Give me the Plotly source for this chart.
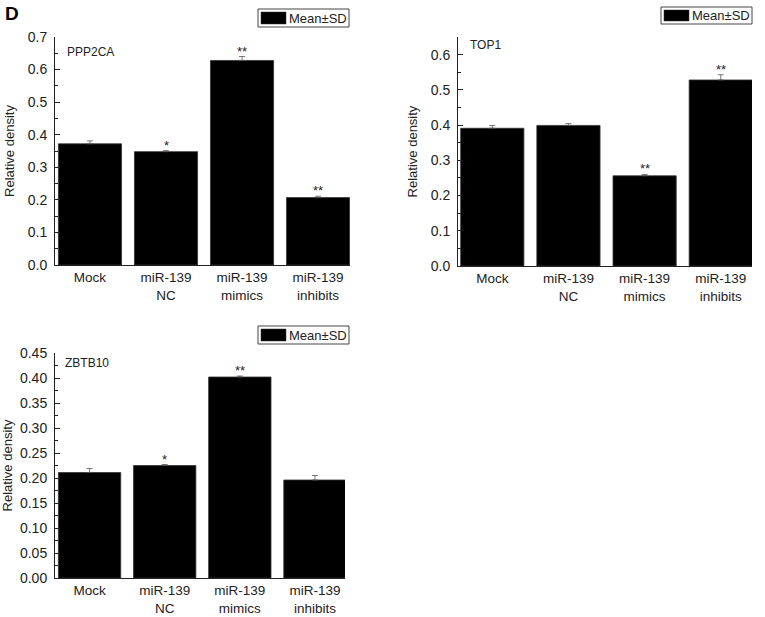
import plotly.graph_objects as go

W, H = 765, 617

categories = ["Mock", "miR-139<br>NC", "miR-139<br>mimics", "miR-139<br>inhibits"]

ppp2ca_vals = [0.372, 0.348, 0.628, 0.207]
ppp2ca_err = [0.009, 0.003, 0.012, 0.004]
ppp2ca_sig = ["", "*", "**", "**"]

top1_vals = [0.391, 0.399, 0.256, 0.528]
top1_err = [0.008, 0.005, 0.004, 0.015]
top1_sig = ["", "", "**", "**"]

zbtb10_vals = [0.211, 0.225, 0.402, 0.196]
zbtb10_err = [0.008, 0.002, 0.002, 0.009]
zbtb10_sig = ["", "*", "**", ""]

panel_titles = ["PPP2CA", "TOP1", "ZBTB10"]
legend_text = "Mean±SD"
y_title = "Relative density"

FONT = "Liberation Sans, Arial, Helvetica, sans-serif"

fig = go.Figure()

def px_x(p):
    return p / W

def px_y(p):
    return 1 - p / H

panels = [
    dict(vals=ppp2ca_vals, err=ppp2ca_err, sig=ppp2ca_sig, title=panel_titles[0],
         xd=[55, 350], yd=[265, 37], yrange=[0, 0.7], dtick=0.1, fmt=".1f", minor=0.05,
         xrange=[-0.46, 3.42], leg=(258, 349, 9, 27), title_pos=(65, 52), ax=""),
    dict(vals=top1_vals, err=top1_err, sig=top1_sig, title=panel_titles[1],
         xd=[458, 752], yd=[266, 37], yrange=[0, 0.65], dtick=0.1, fmt=".1f", minor=0.05,
         xrange=[-0.45, 3.41], leg=(661, 752, 7, 24), title_pos=(468, 45), ax="2"),
    dict(vals=zbtb10_vals, err=zbtb10_err, sig=zbtb10_sig, title=panel_titles[2],
         xd=[55, 345], yd=[578, 353], yrange=[0, 0.45], dtick=0.05, fmt=".2f", minor=0.025,
         xrange=[-0.46, 3.40], leg=(258, 349, 326, 344), title_pos=(63, 363), ax="3"),
]

shapes = []
annotations = []

for p in panels:
    ax = p["ax"]
    fig.add_trace(go.Bar(
        x=categories, y=p["vals"],
        marker=dict(color="black", line=dict(color="#333333", width=0.8)),
        width=0.83,
        error_y=dict(type="data", array=p["err"], arrayminus=[0] * 4, symmetric=False,
                     color="#555555", thickness=0.8, width=3),
        xaxis="x" + ax, yaxis="y" + ax, showlegend=False,
    ))
    xa = dict(
        domain=[px_x(p["xd"][0]), px_x(p["xd"][1])], automargin=False,
        anchor="y" + ax, range=p["xrange"], showline=True, linecolor="#222", linewidth=1,
        ticks="", showgrid=False, zeroline=False,
        tickfont=dict(family=FONT, size=13.5, color="#222"),
    )
    ya = dict(
        domain=[px_y(p["yd"][0]), px_y(p["yd"][1])], automargin=False,
        anchor="x" + ax, range=p["yrange"], dtick=p["dtick"], tick0=0, tickformat=p["fmt"],
        showline=True, linecolor="#222", linewidth=1, ticks="inside", ticklen=5, tickcolor="#222",
        showgrid=False, zeroline=False,
        minor=dict(dtick=p["minor"], ticks="inside", ticklen=3, tickcolor="#222", showgrid=False),
        tickfont=dict(family=FONT, size=14, color="#222"),
        title=dict(text=y_title, font=dict(family=FONT, size=13, color="#222"), standoff=10),
        ticklabelstandoff=4,
    )
    fig.update_layout(**{"xaxis" + ax: xa, "yaxis" + ax: ya})

    # significance stars
    for c, v, e, s in zip(categories, p["vals"], p["err"], p["sig"]):
        if s:
            annotations.append(dict(x=c, y=v + e, xref="x" + ax, yref="y" + ax, text=s,
                                    showarrow=False, yanchor="bottom", yshift=-4,
                                    font=dict(family=FONT, size=13, color="#222")))
    # panel title
    tx, ty = p["title_pos"]
    annotations.append(dict(x=px_x(tx), y=px_y(ty), xref="paper", yref="paper", text=p["title"],
                            showarrow=False, xanchor="left", yanchor="middle",
                            font=dict(family=FONT, size=12, color="#222")))
    # legend box
    x0, x1, y0, y1 = p["leg"]
    shapes.append(dict(type="rect", xref="paper", yref="paper", x0=px_x(x0), x1=px_x(x1),
                       y0=px_y(y1), y1=px_y(y0), line=dict(color="#444", width=1),
                       fillcolor="white"))
    shapes.append(dict(type="rect", xref="paper", yref="paper", x0=px_x(x0 + 3), x1=px_x(x0 + 28),
                       y0=px_y(y1 - 3), y1=px_y(y0 + 3), line=dict(color="#333", width=0.5),
                       fillcolor="black"))
    annotations.append(dict(x=px_x(x0 + 29), y=px_y((y0 + y1) / 2), xref="paper", yref="paper",
                            text=legend_text, showarrow=False, xanchor="left", yanchor="middle",
                            font=dict(family=FONT, size=13, color="#222")))

annotations.append(dict(x=px_x(3), y=px_y(13), xref="paper", yref="paper", text="<b>D</b>",
                        showarrow=False, xanchor="left", yanchor="middle",
                        font=dict(family=FONT, size=19, color="black")))

fig.update_layout(
    width=W, height=H, margin=dict(l=0, r=0, t=0, b=0, autoexpand=False),
    paper_bgcolor="white", plot_bgcolor="white",
    bargap=0.17, shapes=shapes, annotations=annotations,
    font=dict(family=FONT, color="#222"),
)

fig.write_html("out.html", config={"displayModeBar": False},
               post_script="document.body.style.margin='0px';document.body.style.overflow='hidden';")
